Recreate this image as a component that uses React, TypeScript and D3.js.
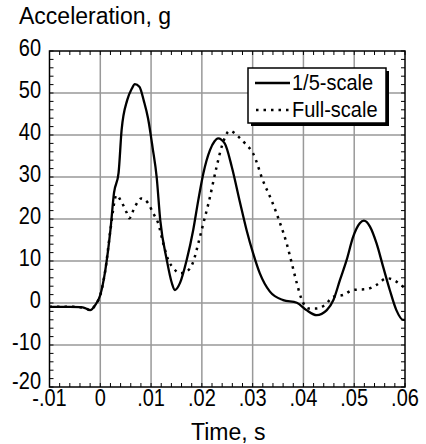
import React from "react";
import * as d3 from "d3";

const solidT = [-0.01, -0.008, -0.006, -0.004, -0.003, -0.002, -0.001, 0, 0.001, 0.002, 0.0027, 0.0036, 0.0042, 0.0053, 0.0062, 0.0068, 0.0077, 0.0086, 0.0094, 0.0103, 0.0111, 0.0118, 0.0131, 0.0141, 0.0147, 0.0157, 0.017, 0.0183, 0.0193, 0.0203, 0.0216, 0.0225, 0.0232, 0.0245, 0.0259, 0.0275, 0.0288, 0.0301, 0.0314, 0.0334, 0.036, 0.0387, 0.0406, 0.0426, 0.0446, 0.0459, 0.0472, 0.0485, 0.0498, 0.0511, 0.0519, 0.0531, 0.0544, 0.0557, 0.057, 0.0583, 0.0596, 0.06];
const solidV = [-0.9, -0.9, -0.9, -1.0, -1.2, -1.7, -0.5, 1.9, 7.9, 17.4, 26.2, 31, 41.2, 48.3, 51, 52.1, 51.5, 48, 44, 37, 30, 19.8, 10.2, 4.7, 3.1, 4.8, 10.2, 17.4, 24.5, 30.9, 36.4, 38.5, 39.2, 38, 32.4, 24, 17.4, 11.8, 7.1, 2.7, 0.7, 0.07, -1.7, -2.9, -1.7, 0.7, 5.5, 10.2, 15.8, 19, 19.6, 18.2, 14.2, 8.6, 3.1, -1.7, -4, -4];

const fullT = [-0.01, -0.008, -0.006, -0.004, -0.003, -0.002, -0.001, 0, 0.001, 0.002, 0.0032, 0.0042, 0.0052, 0.0057, 0.0068, 0.0081, 0.0094, 0.0104, 0.0114, 0.0124, 0.0134, 0.0144, 0.0157, 0.017, 0.0183, 0.0193, 0.0203, 0.0213, 0.0229, 0.0239, 0.0255, 0.0272, 0.0285, 0.0301, 0.0321, 0.0337, 0.0354, 0.0367, 0.0377, 0.0387, 0.0397, 0.041, 0.0426, 0.0442, 0.0459, 0.0478, 0.0498, 0.0524, 0.0544, 0.0564, 0.0583, 0.0596, 0.06];
const fullV = [-0.9, -0.9, -0.9, -1.0, -1.2, -1.7, -0.5, 1.9, 7.9, 17.4, 25.7, 24, 21.5, 20.2, 22.9, 24.9, 23.8, 21.4, 19, 14.2, 10.2, 8.3, 7.1, 7.5, 9.8, 14.2, 19, 23.7, 32.4, 37.2, 41, 39.6, 38, 35.6, 28.9, 24.5, 19, 14.2, 9.5, 4.7, 0.7, -1.3, -1.3, -0.5, 1.5, 1.9, 3.1, 3.3, 4.3, 5.9, 5.1, 3.9, 3.5];

const xTickValues = [-0.01, 0, 0.01, 0.02, 0.03, 0.04, 0.05, 0.06];
const xTickLabels = ["-.01", "0", ".01", ".02", ".03", ".04", ".05", ".06"];
const yTickValues = [-20, -10, 0, 10, 20, 30, 40, 50, 60];
const yTickLabels = ["-20", "-10", "0", "10", "20", "30", "40", "50", "60"];
const legendLabels = ["1/5-scale", "Full-scale"];

const W = 426;
const H = 444;
const L = 49.5, R = 405, T = 51, B = 387;
const FONT = "'Liberation Sans', Arial, sans-serif";

function STxt(props: { x: number; y: number; anchor?: string; size: number; sy: number; children: React.ReactNode }) {
  return (
    <text
      transform={`translate(${props.x},${props.y}) scale(1,${props.sy})`}
      textAnchor={props.anchor || "start"}
      fontFamily={FONT}
      fontSize={props.size}
      fill="#000"
    >
      {props.children}
    </text>
  );
}

export default function App() {
  const x = d3.scaleLinear().domain([-0.01, 0.06]).range([L, R]);
  const y = d3.scaleLinear().domain([-20, 60]).range([B, T]);
  const line = d3
    .line<[number, number]>()
    .x((d) => x(d[0]))
    .y((d) => y(d[1]))
    .curve(d3.curveMonotoneX);
  const solid = solidT.map((t, i) => [t, solidV[i]] as [number, number]);
  const full = fullT.map((t, i) => [t, fullV[i]] as [number, number]);

  const xMinor = d3.range(0, 36).map((i) => -0.01 + i * 0.002);
  const yMinor = d3.range(0, 41).map((i) => -20 + i * 2);

  return (
    <svg width={W} height={H} style={{ position: "absolute", left: 0, top: 0, background: "#fff" }}>
      <rect x={0} y={0} width={W} height={H} fill="#fff" />
      {xTickValues.slice(1, -1).map((v) => (
        <line key={"gx" + v} x1={x(v)} x2={x(v)} y1={T} y2={B} stroke="#999" strokeWidth={1.5} />
      ))}
      {yTickValues.slice(1, -1).map((v) => (
        <line key={"gy" + v} x1={L} x2={R} y1={y(v)} y2={y(v)} stroke="#999" strokeWidth={1.5} />
      ))}
      {xMinor.map((v, i) => (
        <g key={"mx" + i}>
          <line x1={x(v)} x2={x(v)} y1={B} y2={B - 4} stroke="#000" strokeWidth={1} />
          <line x1={x(v)} x2={x(v)} y1={T} y2={T + 4} stroke="#000" strokeWidth={1} />
        </g>
      ))}
      {yMinor.map((v, i) => (
        <g key={"my" + i}>
          <line x1={L} x2={L + 4} y1={y(v)} y2={y(v)} stroke="#000" strokeWidth={1} />
          <line x1={R} x2={R - 4} y1={y(v)} y2={y(v)} stroke="#000" strokeWidth={1} />
        </g>
      ))}
      <path d={line(full) || ""} fill="none" stroke="#000" strokeWidth={2.5} strokeDasharray="2.5,5" />
      <path d={line(solid) || ""} fill="none" stroke="#000" strokeWidth={2.3} strokeLinejoin="round" />
      <rect x={L} y={T} width={R - L} height={B - T} fill="none" stroke="#000" strokeWidth={1.5} />
      {yTickValues.map((v, i) => (
        <STxt key={"yl" + v} x={41} y={y(v) + (v === -20 ? 2 : 5)} anchor="end" size={20} sy={1.17}>
          {yTickLabels[i]}
        </STxt>
      ))}
      {xTickValues.map((v, i) => (
        <STxt key={"xl" + v} x={x(v)} y={406} anchor="middle" size={20} sy={1.17}>
          {xTickLabels[i]}
        </STxt>
      ))}
      <STxt x={19} y={24} size={23} sy={1}>Acceleration, g</STxt>
      <STxt x={(L + R) / 2 + 1} y={440} anchor="middle" size={23} sy={1}>Time, s</STxt>
      <rect x={251} y={71} width={138} height={55} fill="#000" />
      <rect x={248} y={68} width={138} height={55} fill="#fff" stroke="#000" strokeWidth={1.5} />
      <line x1={255} x2={290} y1={83} y2={83} stroke="#000" strokeWidth={2.3} />
      <line x1={256} x2={290} y1={110} y2={110} stroke="#000" strokeWidth={2.5} strokeDasharray="2.5,5" />
      <STxt x={292} y={90} size={20} sy={1.1}>{legendLabels[0]}</STxt>
      <STxt x={292} y={117} size={20} sy={1.1}>{legendLabels[1]}</STxt>
    </svg>
  );
}
